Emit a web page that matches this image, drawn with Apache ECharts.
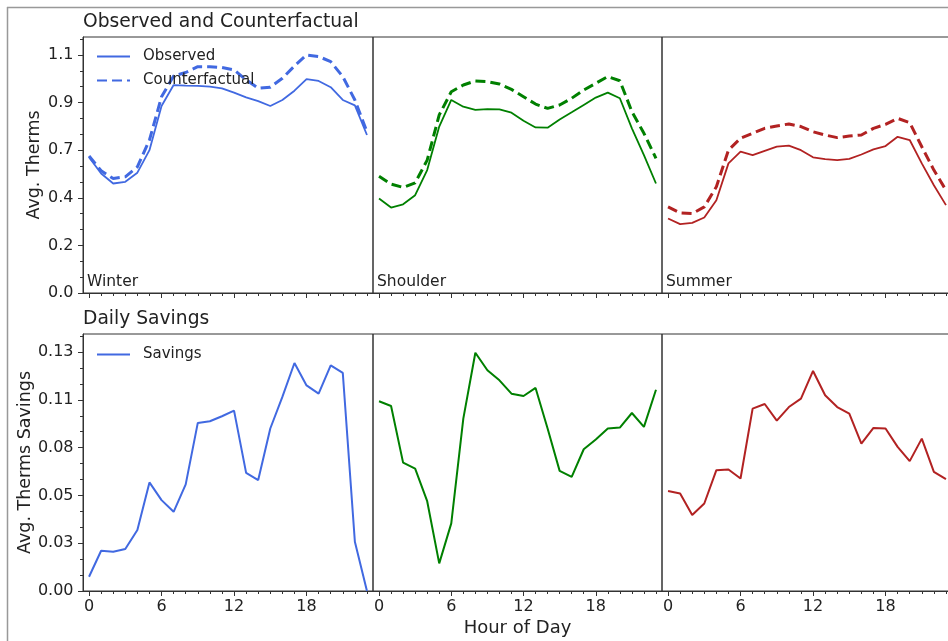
<!DOCTYPE html>
<html>
<head>
<meta charset="utf-8">
<script src="https://cdn.jsdelivr.net/npm/echarts@6/dist/echarts.min.js"></script>
<style>
  html, body { margin: 0; padding: 0; background: #fff; }
  #main { width: 948px; height: 641px; }
</style>
</head>
<body>
<div id="main"></div>
<script>
// hours 0..23
const hours = ['0','1','2','3','4','5','6','7','8','9','10','11','12','13','14','15','16','17','18','19','20','21','22','23'];
const seasons = ['Winter', 'Shoulder', 'Summer'];

// observed / counterfactual avg therms
const winterObserved = [0.627,0.552,0.506,0.514,0.556,0.660,0.864,0.961,0.958,0.957,0.954,0.946,0.926,0.904,0.887,0.864,0.892,0.935,0.988,0.980,0.951,0.892,0.867,0.730];
const winterCounter  = [0.633,0.565,0.529,0.537,0.583,0.707,0.907,1.003,1.019,1.046,1.046,1.042,1.031,0.985,0.946,0.951,0.992,1.049,1.100,1.093,1.069,1.000,0.892,0.745];
const shoulderObserved = [0.437,0.395,0.410,0.452,0.568,0.769,0.892,0.861,0.846,0.850,0.849,0.833,0.796,0.765,0.764,0.802,0.835,0.869,0.903,0.926,0.900,0.761,0.637,0.506];
const shoulderCounter  = [0.540,0.503,0.488,0.509,0.614,0.823,0.930,0.961,0.980,0.977,0.966,0.941,0.907,0.873,0.853,0.869,0.900,0.938,0.969,1.000,0.981,0.838,0.738,0.622];
const summerObserved = [0.344,0.318,0.324,0.349,0.429,0.599,0.653,0.637,0.657,0.676,0.681,0.660,0.627,0.619,0.614,0.620,0.640,0.664,0.679,0.722,0.707,0.599,0.498,0.406];
const summerCounter  = [0.398,0.370,0.367,0.398,0.491,0.660,0.715,0.738,0.761,0.772,0.781,0.769,0.745,0.730,0.718,0.725,0.730,0.761,0.779,0.807,0.787,0.676,0.568,0.475];

// daily savings
const winterSavings   = [0.0079,0.0223,0.0218,0.0233,0.0338,0.0602,0.0504,0.0439,0.0591,0.0932,0.0941,0.0969,0.1000,0.0655,0.0615,0.0901,0.1076,0.1264,0.1140,0.1094,0.1251,0.1209,0.0273,0.0];
const shoulderSavings = [0.1052,0.1026,0.0712,0.0679,0.0498,0.0153,0.0375,0.0956,0.1321,0.1224,0.1168,0.1094,0.1081,0.1126,0.0901,0.0666,0.0633,0.0786,0.0840,0.0901,0.0906,0.0987,0.0910,0.1116];
const summerSavings   = [0.0555,0.0541,0.0421,0.0485,0.0670,0.0674,0.0624,0.1011,0.1037,0.0945,0.1020,0.1067,0.1220,0.1085,0.1020,0.0984,0.0817,0.0904,0.0901,0.0799,0.0720,0.0845,0.0661,0.0620];

// y tick values and their printed labels
const topTicks = [0, 0.22, 0.44, 0.66, 0.88, 1.1];
const topTickLabels = ['0.0','0.2','0.4','0.7','0.9','1.1'];
const bottomTicks = [0, 0.0265, 0.053, 0.0795, 0.106, 0.1325];
const bottomTickLabels = ['0.00','0.03','0.05','0.08','0.11','0.13'];

const colors = ['#4169e1', '#008000', '#b22222'];
const FONT = 'DejaVu Sans';
const ink = '#222';
const spine = '#333';

const chart = echarts.init(document.getElementById('main'));

const colLeft = [83, 373, 662];
const colWidth = [290, 289, 290];
const rowTop = [37, 334];
const rowHeight = [256, 257];

let grids = [], xAxes = [], yAxes = [];
for (let r = 0; r < 2; r++) {
  for (let c = 0; c < 3; c++) {
    const g = r * 3 + c;
    grids.push({
      left: colLeft[c], top: rowTop[r], width: colWidth[c], height: rowHeight[r],
      outerBoundsMode: 'none', containLabel: false,
      show: true, borderColor: spine, borderWidth: 1, backgroundColor: 'transparent'
    });
    // major x ticks + labels
    xAxes.push({
      type: 'category', gridIndex: g, position: 'bottom', data: hours, boundaryGap: true,
      axisLine: { show: true, lineStyle: { color: spine, width: 1 } },
      axisTick: { show: true, alignWithLabel: true, length: 5, interval: (i) => i % 6 === 0, lineStyle: { color: spine } },
      axisLabel: { show: r === 1, interval: (i) => i % 6 === 0, fontFamily: FONT, fontSize: 16, color: ink, margin: 7.5 },
      splitLine: { show: false },
      name: (r === 1 && c === 1) ? 'Hour of Day' : '',
      nameLocation: 'middle', nameGap: 28,
      nameTextStyle: { fontFamily: FONT, fontSize: 18, color: ink }
    });
    // minor x ticks every hour
    xAxes.push({
      type: 'category', gridIndex: g, position: 'bottom', data: hours, boundaryGap: true,
      axisLine: { show: false },
      axisTick: { show: true, alignWithLabel: true, length: 3, interval: 0, lineStyle: { color: spine } },
      axisLabel: { show: false }, splitLine: { show: false }
    });
    const ticks = r === 0 ? topTicks : bottomTicks;
    const labels = r === 0 ? topTickLabels : bottomTickLabels;
    yAxes.push({
      type: 'value', gridIndex: g, min: 0, max: r === 0 ? 1.183 : 0.1425,
      interval: ticks[1],
      axisLine: { show: c === 0, lineStyle: { color: spine, width: 1 } },
      axisTick: { show: c === 0, length: 5, customValues: ticks, lineStyle: { color: spine } },
      minorTick: { show: c === 0, splitNumber: 3, length: 3, lineStyle: { color: spine } },
      axisLabel: {
        show: c === 0, customValues: ticks, fontFamily: FONT, fontSize: 16, color: ink, margin: 9.5,
        formatter: (v) => {
          let best = 0;
          ticks.forEach((t, i) => { if (Math.abs(t - v) < Math.abs(ticks[best] - v)) best = i; });
          return labels[best];
        }
      },
      splitLine: { show: false },
      name: c === 0 ? (r === 0 ? 'Avg. Therms' : 'Avg. Therms Savings') : '',
      nameLocation: 'middle', nameGap: r === 0 ? 40 : 49,
      nameTextStyle: { fontFamily: FONT, fontSize: 17.5, color: ink }
    });
  }
}

const observed = [winterObserved, shoulderObserved, summerObserved];
const counter = [winterCounter, shoulderCounter, summerCounter];
const savings = [winterSavings, shoulderSavings, summerSavings];

let series = [];
for (let c = 0; c < 3; c++) {
  const suffix = c === 0 ? '' : ' ' + seasons[c];
  series.push({
    name: 'Observed' + suffix, type: 'line', xAxisIndex: c * 2, yAxisIndex: c,
    data: observed[c], symbol: 'none', color: colors[c],
    lineStyle: { color: colors[c], width: 1.8 }
  });
  series.push({
    name: 'Counterfactual' + suffix, type: 'line', xAxisIndex: c * 2, yAxisIndex: c,
    data: counter[c], symbol: 'none', color: colors[c],
    lineStyle: { color: colors[c], width: 3, type: [10, 5] }
  });
  series.push({
    name: 'Savings' + suffix, type: 'line', xAxisIndex: (c + 3) * 2, yAxisIndex: c + 3,
    data: savings[c], symbol: 'none', color: colors[c],
    lineStyle: { color: colors[c], width: 2 }
  });
}

let graphics = [
  { type: 'line', shape: { x1: 7.5, y1: 7, x2: 7.5, y2: 641 }, style: { stroke: '#999', lineWidth: 1.5 } },
  { type: 'line', shape: { x1: 7, y1: 7.5, x2: 948, y2: 7.5 }, style: { stroke: '#999', lineWidth: 1.5 } }
];
seasons.forEach((s, c) => {
  graphics.push({
    type: 'text', left: colLeft[c] + 4, top: 274,
    style: { text: s, fontFamily: FONT, fontSize: 15.5, fill: ink }
  });
});

const legendBase = {
  orient: 'vertical', left: 96, padding: 0,
  itemWidth: 33, itemHeight: 14, itemGap: 9,
  itemStyle: { color: 'transparent', borderWidth: 0, opacity: 0 },
  textStyle: { fontFamily: FONT, fontSize: 15, color: ink, padding: [0, 0, 0, 8] }
};

chart.setOption({
  animation: false,
  backgroundColor: '#fff',
  title: [
    { text: 'Observed and Counterfactual', left: 83, top: 13, padding: 0,
      textStyle: { fontFamily: FONT, fontSize: 18.7, fontWeight: 'normal', color: ink } },
    { text: 'Daily Savings', left: 83, top: 310, padding: 0,
      textStyle: { fontFamily: FONT, fontSize: 18.7, fontWeight: 'normal', color: ink } }
  ],
  legend: [
    Object.assign({ data: ['Observed', 'Counterfactual'], top: 49 }, legendBase),
    Object.assign({ data: ['Savings'], top: 347 }, legendBase)
  ],
  grid: grids,
  xAxis: xAxes,
  yAxis: yAxes,
  series: series,
  graphic: graphics
});
</script>
</body>
</html>
